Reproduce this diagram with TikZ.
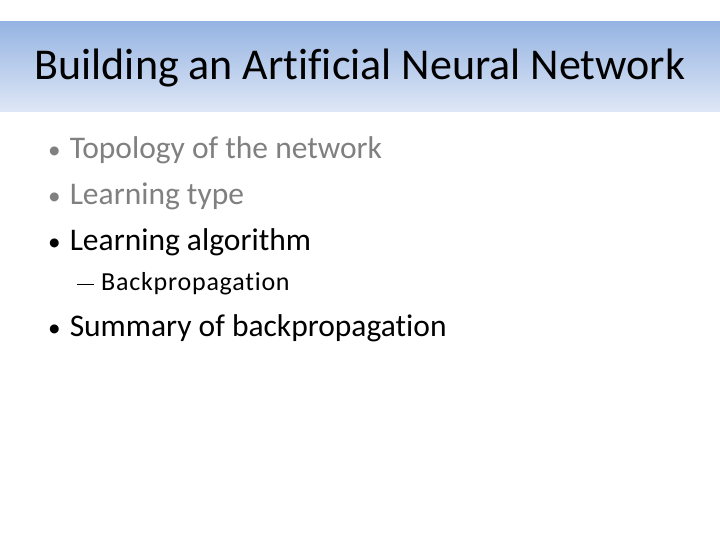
\documentclass[tikz,border=0pt]{standalone}
\usepackage{fontspec}
\setmainfont[Ligatures=NoCommon]{Carlito}
\definecolor{bartop}{RGB}{150,180,226}
\definecolor{barbot}{RGB}{222,231,246}
\definecolor{greytext}{RGB}{128,128,128}
\begin{document}
\begin{tikzpicture}[x=1pt,y=-1pt,
  item/.style={anchor=west,inner sep=0pt,font=\fontsize{31.5}{34}\selectfont},
  subitem/.style={anchor=west,inner sep=0pt,font=\fontsize{26}{29}\selectfont}]
\useasboundingbox (0,0) rectangle (720,540);
\fill[white] (0,0) rectangle (720,540);
\shade[top color=bartop,bottom color=barbot] (0,22) rectangle (720,112);
\node[inner sep=0pt,font=\fontsize{44}{48}\selectfont] (title) at (360,68) {Building an Artificial Neural Network};
\node[item,text=greytext] (b1) at (48,150) {\scalebox{0.8}{•}\hspace{9pt}Topology of the network};
\node[item,text=greytext] (b2) at (48,196) {\scalebox{0.8}{•}\hspace{9pt}Learning type};
\node[item] (b3) at (48,242) {\scalebox{0.8}{•}\hspace{9pt}Learning algorithm};
\node[subitem] (s1) at (77,284) {\rule[0.22em]{17pt}{1.3pt}\hspace{7pt}\addfontfeature{LetterSpace=3}Backpropagation};
\node[item] (b4) at (48,328) {\scalebox{0.8}{•}\hspace{9pt}Summary of backpropagation};
\end{tikzpicture}
\end{document}
